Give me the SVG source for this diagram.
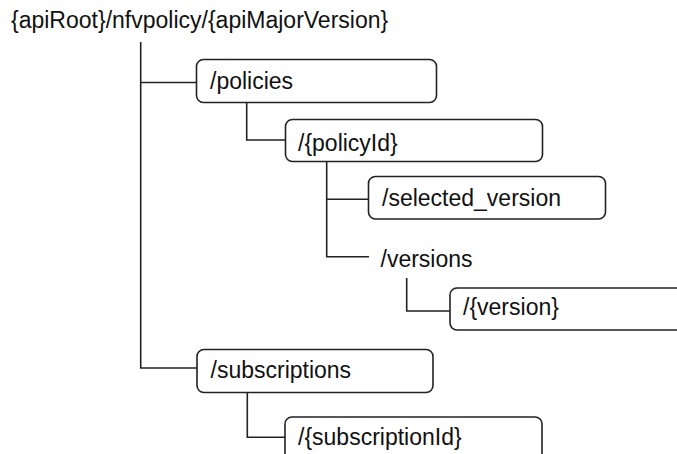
<svg xmlns="http://www.w3.org/2000/svg" width="677" height="454" viewBox="0 0 677 454">
<style>
text{font-family:"Liberation Sans",Arial,sans-serif;font-size:23px;fill:#111}
.box{fill:#fff;stroke:#222;stroke-width:1.6}
.con{fill:none;stroke:#222;stroke-width:1.6}
</style>
<rect width="677" height="454" fill="#fff"/>
<g id="connectors">
<path class="con" d="M140.7 42 V368 H197"/>
<path class="con" d="M140.7 82.5 H196.5"/>
<path class="con" d="M246.7 102.5 V140 H285.5"/>
<path class="con" d="M326.7 161.5 V256.7 H369"/>
<path class="con" d="M326.7 199.3 H368.5"/>
<path class="con" d="M406.7 278 V311 H450"/>
<path class="con" d="M247.3 392.5 V437.3 H285"/>
</g>
<g id="root"><text x="11" y="28">{apiRoot}/nfvpolicy/{apiMajorVersion}</text></g>
<g id="policies"><rect class="box" x="196.5" y="59.5" width="240" height="43" rx="7"/><text x="210" y="89">/policies</text></g>
<g id="policyId"><rect class="box" x="285.5" y="119.5" width="257" height="42" rx="7"/><text x="298" y="150.7">/{policyId}</text></g>
<g id="selected_version"><rect class="box" x="368.5" y="176.5" width="237" height="42.5" rx="7"/><text x="382" y="206">/selected_version</text></g>
<g id="versions"><text x="380.5" y="266.7">/versions</text></g>
<g id="version"><rect class="box" x="450" y="288" width="240" height="42" rx="7"/><text x="463" y="315">/{version}</text></g>
<g id="subscriptions"><rect class="box" x="197" y="349.5" width="236" height="43" rx="7"/><text x="210.5" y="378.3">/subscriptions</text></g>
<g id="subscriptionId"><rect class="box" x="285" y="417" width="257" height="50" rx="7"/><text x="298" y="445">/{subscriptionId}</text></g>
</svg>
